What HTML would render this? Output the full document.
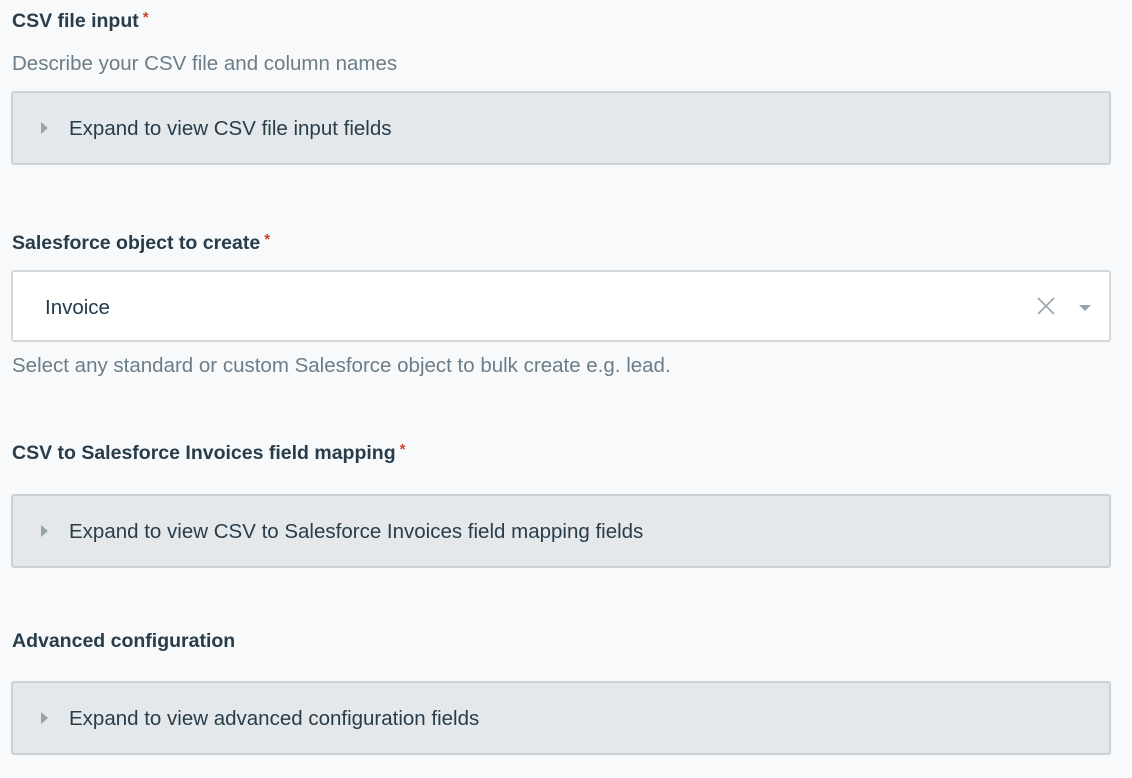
<!DOCTYPE html>
<html><head><meta charset="utf-8"><style>
body{margin:0;width:1132px;height:778px;background:#f8f9fb;font-family:"Liberation Sans",sans-serif;position:relative;overflow:hidden;color:#243a48}
.t{position:absolute;left:12px;font-weight:bold;font-size:19.5px;color:#283c4a}
.t span{color:#d0402a;font-size:15px;vertical-align:top;margin-left:4px;position:relative;top:-1px}
.d{position:absolute;left:12px;font-size:20.5px;color:#6b7d88}
.box{position:absolute;left:11px;width:1096px;height:70px;background:#e5e8eb;border:2px solid #ccd1d6;border-radius:3px}
.box .tx{position:absolute;left:56px;top:24px;font-size:20.5px;color:#283c4a}
.box .ar{position:absolute;left:28px;top:29px;width:0;height:0;border-left:7px solid #97a3ab;border-top:6px solid transparent;border-bottom:6px solid transparent}
.inp{position:absolute;left:11px;top:270px;width:1096px;height:68px;background:#fff;border:2px solid #d3d8dc;border-radius:3px}
</style></head><body>
<div class="t" style="top:10px">CSV file input<span>*</span></div>
<div class="d" style="top:52px">Describe your CSV file and column names</div>
<div class="box" style="top:91px"><div class="ar"></div><div class="tx">Expand to view CSV file input fields</div></div>

<div class="t" style="top:232px">Salesforce object to create<span>*</span></div>
<div class="inp">
<div style="position:absolute;left:32px;top:24px;font-size:20.5px;color:#243a48">Invoice</div>
<svg style="position:absolute;left:1024px;top:25px" width="18" height="18"><path d="M1 1L17 17M17 1L1 17" stroke="#9aa5ad" stroke-width="1.6"/></svg>
<div style="position:absolute;left:1066px;top:33px;width:0;height:0;border-top:6px solid #97a3ab;border-left:6px solid transparent;border-right:6px solid transparent"></div>
</div>
<div class="d" style="top:354px">Select any standard or custom Salesforce object to bulk create e.g. lead.</div>

<div class="t" style="top:442px">CSV to Salesforce Invoices field mapping<span>*</span></div>
<div class="box" style="top:494px"><div class="ar"></div><div class="tx">Expand to view CSV to Salesforce Invoices field mapping fields</div></div>

<div class="t" style="top:630px">Advanced configuration</div>
<div class="box" style="top:681px"><div class="ar"></div><div class="tx">Expand to view advanced configuration fields</div></div>
</body></html>
